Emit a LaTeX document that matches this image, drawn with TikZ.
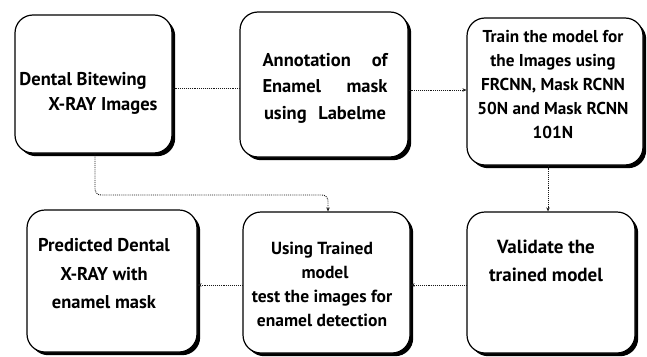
\documentclass[tikz,border=0pt]{standalone}
\usepackage{fontspec}
\setmainfont{PT Sans}
\usetikzlibrary{shadows,arrows.meta}
\begin{document}
\begin{tikzpicture}[x=1pt,y=-1pt,
  box/.style={draw=black,line width=1.2pt,rounded corners=18pt,fill=white,
    drop shadow={shadow xshift=3.2pt,shadow yshift=-3.2pt,fill=black,opacity=1}},
  txt/.style={font=\bfseries\fontsize{18.5}{25}\selectfont,align=center,inner sep=0pt},
  link/.style={densely dotted,line width=0.9pt,draw=black!90},
  arr/.style={link,-{Stealth[length=4pt,width=3.5pt]}}]
\useasboundingbox (0,0) rectangle (647,356);
% boxes
\node[box,minimum width=157pt,minimum height=138pt] (b1) at (93.5,84) {};
\node[box,minimum width=168pt,minimum height=145pt] (b2) at (324,84.5) {};
\node[box,minimum width=176pt,minimum height=147pt] (b3) at (555,91.5) {};
\node[box,minimum width=170pt,minimum height=142pt] (b4) at (112,281) {};
\node[box,minimum width=167pt,minimum height=141pt] (b5) at (326.5,282.5) {};
\node[box,minimum width=168pt,minimum height=141pt] (b6) at (551,282.5) {};
% texts
\node[txt,align=left] (t1) at (88.5,93) {Dental Bitewing\\\hspace*{29pt}X-RAY Images};
\node[txt,font=\bfseries\fontsize{18.5}{26.5}\selectfont] (t2) at (325,88)
  {\makebox[125pt][s]{Annotation\hfill of}\\\makebox[125pt][s]{Enamel\hfill mask}\\\makebox[122pt][s]{using\hfill Labelme}};
\node[txt,font=\bfseries\fontsize{17.2}{24}\selectfont] (t3) at (553,85) {Train the model for\\the Images using\\FRCNN, Mask RCNN\\50N and Mask RCNN\\101N};
\node[txt,font=\bfseries\fontsize{18.5}{28.5}\selectfont] (t4) at (104,274) {Predicted Dental\\X-RAY with\\enamel mask};
\node[txt,font=\bfseries\fontsize{17.5}{24}\selectfont] (t5) at (322,284) {Using Trained\\\hspace*{6pt}model\\test the images for\\enamel detection};
\node[txt,font=\bfseries\fontsize{19}{28.5}\selectfont] (t6) at (546,261) {Validate the\\trained model};
% connectors
\draw[link] (b1.east |- 0,88) -- (b2.west |- 0,88);
\draw[arr] (b2.east |- 0,90) -- (b3.west |- 0,90);
\draw[arr] (b3.south -| 548,0) -- (b6.north -| 548,0);
\draw[arr,rounded corners=6pt] (b1.south -| 95,0) -- (95,195) -- (328,195) -- (b5.north -| 328,0);
\draw[arr] (b6.west |- 0,285) -- (b5.east |- 0,285);
\draw[arr] (b5.west |- 0,285) -- (b4.east |- 0,285);
\end{tikzpicture}
\end{document}
